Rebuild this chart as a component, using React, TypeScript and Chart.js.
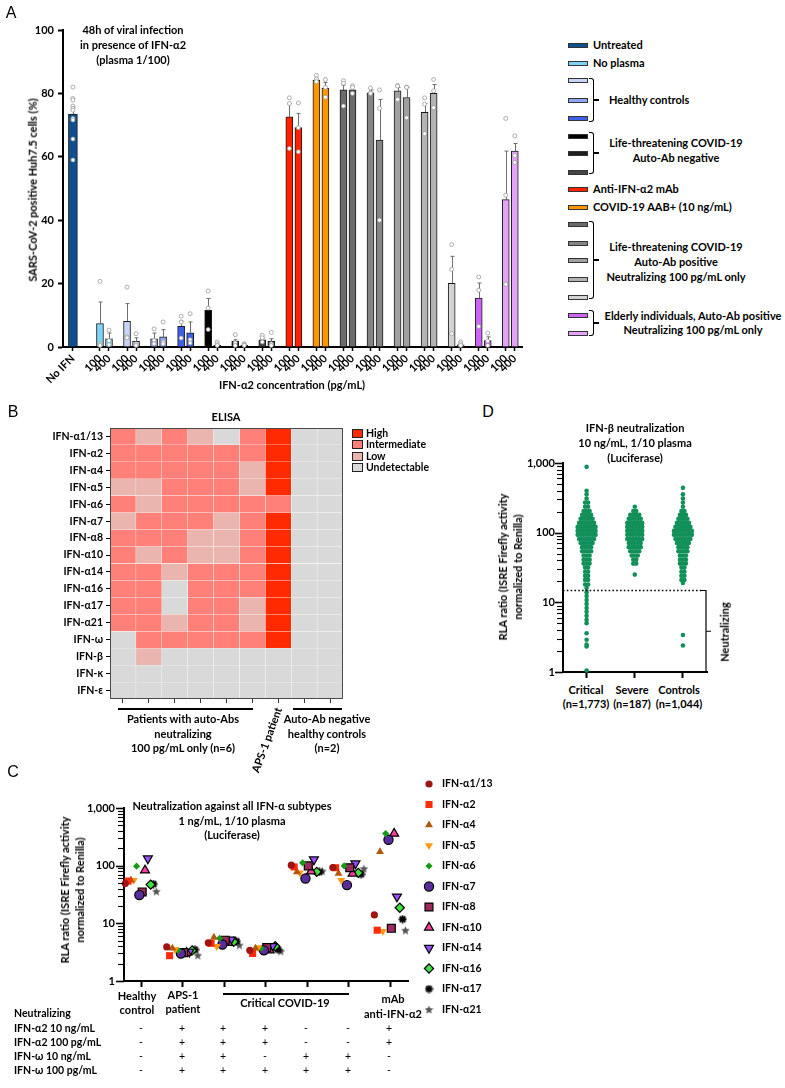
import React, { useEffect, useRef } from 'react';
import { Chart, registerables } from 'chart.js';
import { drawPoint } from 'chart.js/helpers';

Chart.register(...registerables);

const FONT = "Lato, 'Open Sans', 'DejaVu Sans', sans-serif";
Chart.defaults.font.family = FONT;
Chart.defaults.font.size = 11;
(Chart.defaults.font as any).weight = 'bold';
Chart.defaults.color = '#000';

// ---------------- Panel A data ----------------
const aControlLabel = 'No IFN';
const aConcLabels = ['100', '400'];
const aUntreatedColor = '#0d4f8f';
const aGroupColors = [
  '#7fd3f7', '#c8d3f6', '#8fa6f0', '#3e5fe6',
  '#000000', '#1e1e1e', '#454545',
  '#ff2200', '#ff9500',
  '#6b6b6b', '#858585', '#a0a0a0', '#b3b3b3', '#d3d3d3',
  '#cc66f0', '#e3a3fa',
];
const aNoIfnMean = 73.5;
const aNoIfnErrTop = 75.6;
const aNoIfnDots = [82, 78.4, 77.9, 76, 75.3, 74.7, 72.1, 71.6, 65.6, 59];
const aMean100 = [7.4, 8.1, 2.6, 6.5, 11.6, 1.9, 2.3, 72.6, 84.2, 81.1, 80.2, 80.8, 74.0, 20.1, 15.4, 46.5];
const aErr100 = [14.2, 13.7, 4.4, 8.2, 15.3, 2.3, 2.8, 76.8, 84.7, 82.6, 81.1, 81.9, 76.8, 28.6, 20.2, 61.8];
const aMean400 = [2.6, 1.8, 3.2, 4.5, 0.5, 0.5, 1.9, 69.2, 81.7, 81.1, 65.3, 78.7, 80.0, 0.7, 2.0, 61.8];
const aErr400 = [4.4, 2.9, 5.5, 7.9, 0.5, 0.5, 2.6, 73.7, 83.4, 81.9, 78.1, 81.9, 82.8, 0.7, 3.2, 64.2];
const aDots100 = [
  [20.7, 1, 0.5], [18.9, 3.2, 2.9], [5.7, 2.1, 1], [9.7, 7.9, 2.8], [17.7, 12.3, 5.5], [3.9, 1.3, 0.5],
  [3.7, 2.9, 1.6], [78.6, 76.8, 62.6], [85.7, 84.5, 83.7], [84, 83.2, 76], [81.7, 80.2, 80], [82.5, 82.3, 78.1],
  [78.6, 76.6, 67.3], [32.3, 24.5, 4.2], [22.1, 17.9, 6.5], [72.1, 47.9, 19.8],
];
const aDots400 = [
  [5.3, 2, 0.7], [4.2, 1, 0.5], [7.9, 1.6, 1], [10.5, 2.3, 1.3], [1.6, 1, 0.5], [1, 0.8, 0.5],
  [4.6, 1, 0.5], [77, 69.2, 61.6], [84.4, 81.9, 78.8], [82.4, 81.9, 80], [81.1, 75.3, 40], [82, 81.9, 72.3],
  [84.4, 80.8, 75.5], [1.6, 1, 0.5], [4.4, 1.9, 0.5], [66.6, 60.4, 58.2],
];
const aLegendLabels = ['Untreated', 'No plasma', '', '', '', '', '', '', 'Anti-IFN-α2 mAb', 'COVID-19 AAB+ (10 ng/mL)'];

// ---------------- Panel B data ----------------
const bRows = ['IFN-α1/13', 'IFN-α2', 'IFN-α4', 'IFN-α5', 'IFN-α6', 'IFN-α7', 'IFN-α8', 'IFN-α10', 'IFN-α14',
  'IFN-α16', 'IFN-α17', 'IFN-α21', 'IFN-ω', 'IFN-β', 'IFN-κ', 'IFN-ε'];
const bColumns = ['P1', 'P2', 'P3', 'P4', 'P5', 'P6', 'APS-1', 'HC1', 'HC2'];
const bLevelNames = ['Undetectable', 'Low', 'Intermediate', 'High'];
const bLevelColors = ['#d9d9d9', '#eab4af', '#ff8078', '#ff2a00'];
const bMatrix = [
  [2, 1, 2, 1, 0, 2, 3, 0, 0],
  [2, 2, 2, 2, 2, 2, 3, 0, 0],
  [2, 2, 2, 2, 2, 1, 3, 0, 0],
  [1, 1, 2, 2, 2, 1, 3, 0, 0],
  [2, 1, 2, 2, 2, 2, 2, 0, 0],
  [1, 2, 2, 2, 1, 2, 3, 0, 0],
  [2, 2, 2, 1, 1, 2, 3, 0, 0],
  [2, 1, 2, 1, 1, 2, 3, 0, 0],
  [2, 2, 1, 2, 2, 2, 3, 0, 0],
  [2, 2, 0, 2, 2, 2, 3, 0, 0],
  [2, 2, 0, 2, 2, 1, 3, 0, 0],
  [2, 2, 1, 2, 2, 1, 3, 0, 0],
  [0, 2, 2, 2, 2, 2, 3, 0, 0],
  [0, 1, 0, 0, 0, 0, 0, 0, 0],
  [0, 0, 0, 0, 0, 0, 0, 0, 0],
  [0, 0, 0, 0, 0, 0, 0, 0, 0],
];

// ---------------- Panel C data ----------------
const cGroups = ['Healthy control', 'APS-1 patient', 'Critical 1', 'Critical 2', 'Critical 3', 'Critical 4', 'mAb anti-IFN-α2'];
const cSubtypes = ['IFN-α1/13', 'IFN-α2', 'IFN-α4', 'IFN-α5', 'IFN-α6', 'IFN-α7', 'IFN-α8', 'IFN-α10', 'IFN-α14', 'IFN-α16', 'IFN-α17', 'IFN-α21'];
const cA1_13 = [49, 3.9, 4.6, 3.4, 102, 93, 14];
const cA2 = [54, 2.75, 4.5, 3.0, 95, 92, 7.6];
const cA4 = [56, 3.7, 5.7, 3.7, 78, 73, 174];
const cA5 = [56, 3.5, 4.0, 3.8, 75, 56, 7.3];
const cA6 = [98, 3.4, 5.5, 3.7, 112, 99, 360];
const cA7 = [31, 3.0, 4.3, 3.4, 60, 46, 282];
const cA8 = [35, 3.1, 5.1, 3.8, 99, 92, 8.2];
const cA10 = [83, 3.1, 4.6, 3.4, 80, 73, 360];
const cA14 = [133, 3.2, 5.2, 4.0, 128, 109, 29];
const cA16 = [47, 3.4, 4.8, 4.0, 78, 75, 18.6];
const cA17 = [48, 3.5, 4.9, 3.5, 78, 71, 11.8];
const cA21 = [36, 2.8, 4.2, 3.3, 81, 89, 7.6];
const cValues = [cA1_13, cA2, cA4, cA5, cA6, cA7, cA8, cA10, cA14, cA16, cA17, cA21];
const cRowLabels = ['IFN-α2 10 ng/mL', 'IFN-α2 100 pg/mL', 'IFN-ω 10 ng/mL', 'IFN-ω 100 pg/mL'];
const cRowSigns = [
  ['-', '+', '+', '+', '-', '-', '+'],
  ['-', '+', '+', '+', '-', '-', '+'],
  ['-', '+', '+', '-', '+', '+', '-'],
  ['-', '+', '+', '+', '+', '+', '-'],
];
const logTickLabels = ['1', '10', '100', '1,000'];

// ---------------- Panel D data ----------------
const dCategories = ['Critical', 'Severe', 'Controls'];
const dCounts = ['(n=1,773)', '(n=187)', '(n=1,044)'];
const dThreshold = 15;
const dCritValues = [1.05, 2.33, 2.47, 2.9, 3.6, 5.0, 5.6, 6.4, 7.3, 8.3, 9.5, 10.8, 12.3, 14, 16, 18, 21, 24, 27.5, 31.5, 36, 41, 47, 54, 62, 71, 81, 93, 106, 121, 138, 158, 180, 205, 235, 270, 310, 355, 400, 880];
const dCritCounts = [1, 1, 1, 1, 1, 1, 1, 1, 1, 1, 1, 1, 1, 1, 1, 2, 2, 2, 2, 2, 3, 3, 3, 4, 4, 5, 6, 7, 7, 7, 6, 5, 4, 3, 2, 2, 1, 1, 1, 1];
const dSevValues = [25, 36, 41, 47, 54, 62, 71, 81, 93, 106, 121, 138, 158, 180, 205, 235];
const dSevCounts = [1, 2, 2, 3, 4, 5, 5, 6, 6, 6, 6, 6, 5, 4, 2, 1];
const dCtrlValues = [2.4, 3.4, 19, 21, 24, 27.5, 31.5, 36, 41, 47, 54, 62, 71, 81, 93, 106, 121, 138, 158, 180, 205, 235, 270, 310, 355, 440];
const dCtrlCounts = [1, 1, 1, 2, 2, 2, 2, 3, 3, 3, 4, 4, 5, 6, 7, 7, 6, 5, 4, 3, 2, 1, 1, 1, 1, 1];

// ---------------- helpers ----------------
function makeStar(color: string, size: number) {
  const c = document.createElement('canvas');
  c.width = size; c.height = size;
  const g = c.getContext('2d')!;
  g.fillStyle = color;
  g.beginPath();
  const cx = size / 2, cy = size / 2 + 0.5, R = size / 2, r = R * 0.45;
  for (let i = 0; i < 10; i++) {
    const ang = -Math.PI / 2 + (i * Math.PI) / 5;
    const rad = i % 2 === 0 ? R : r;
    g.lineTo(cx + rad * Math.cos(ang), cy + rad * Math.sin(ang));
  }
  g.closePath();
  g.fill();
  return c;
}
function makeAsterisk(size: number) {
  const c = document.createElement('canvas');
  c.width = size; c.height = size;
  const g = c.getContext('2d')!;
  g.strokeStyle = '#000';
  g.lineWidth = 1.8;
  const cx = size / 2, cy = size / 2, R = size / 2 - 0.5;
  g.beginPath();
  for (let i = 0; i < 4; i++) {
    const ang = (i * Math.PI) / 4;
    g.moveTo(cx - R * Math.cos(ang), cy - R * Math.sin(ang));
    g.lineTo(cx + R * Math.cos(ang), cy + R * Math.sin(ang));
  }
  g.stroke();
  return c;
}

function logTickPlugin(major: number, minor: number) {
  return {
    id: 'logTicks',
    afterDraw(chart: any) {
      const y = chart.scales.y;
      const ctx = chart.ctx;
      const left = chart.chartArea.left;
      ctx.save();
      ctx.strokeStyle = '#000';
      y.ticks.forEach((t: any) => {
        const l = Math.log10(t.value);
        const isMajor = Math.abs(l - Math.round(l)) < 1e-9;
        const py = Math.round(y.getPixelForValue(t.value)) + 0.5;
        ctx.lineWidth = isMajor ? 1.6 : 1.1;
        ctx.beginPath();
        ctx.moveTo(left - (isMajor ? major : minor), py);
        ctx.lineTo(left, py);
        ctx.stroke();
      });
      ctx.restore();
    },
  };
}

function logTicksBuild(s: any) {
  const vals: number[] = [];
  [1, 10, 100].forEach((d) => { for (let k = 1; k <= 9; k++) vals.push(k * d); });
  vals.push(1000);
  s.ticks = vals.map((v) => ({ value: v }));
}
function logLabel(v: number) {
  const idx = [1, 10, 100, 1000].indexOf(v);
  return idx >= 0 ? logTickLabels[idx] : '';
}

const baseOpts = {
  responsive: false,
  animation: false,
  devicePixelRatio: 1,
  events: [],
};

// ---------------- configs ----------------
function makeA(): any {
  const barPts: any[] = [];
  const barCols: string[] = [];
  const errs: number[][] = [];
  const dots: any[] = [];
  aMean100.forEach((m, k) => {
    const x1 = 3 + 3 * k, x2 = 4 + 3 * k;
    barPts.push({ x: x1, y: m }); barCols.push(aGroupColors[k]);
    barPts.push({ x: x2, y: aMean400[k] }); barCols.push(aGroupColors[k]);
    errs.push([x1, m, aErr100[k]], [x2, aMean400[k], aErr400[k]]);
    aDots100[k].forEach((v) => dots.push({ x: x1, y: v }));
    aDots400[k].forEach((v) => dots.push({ x: x2, y: v }));
  });
  errs.push([0, aNoIfnMean, aNoIfnErrTop]);
  aNoIfnDots.forEach((v) => dots.push({ x: 0, y: v }));
  const tickVals = [0, ...aMean100.flatMap((_, k) => [3 + 3 * k, 4 + 3 * k])];
  const errPlugin = {
    id: 'errA',
    beforeDatasetsDraw(chart: any) {
      const { ctx, scales: { x, y } } = chart;
      ctx.save();
      ctx.strokeStyle = '#6e6e6e';
      ctx.lineWidth = 1;
      errs.forEach(([xv, mean, top]) => {
        if (top <= mean) return;
        const px = Math.round(x.getPixelForValue(xv)) + 0.5;
        const pt = y.getPixelForValue(top);
        ctx.beginPath();
        ctx.moveTo(px, y.getPixelForValue(mean));
        ctx.lineTo(px, pt);
        ctx.moveTo(px - 2, pt);
        ctx.lineTo(px + 2, pt);
        ctx.stroke();
      });
      ctx.restore();
    },
  };
  return {
    type: 'bar',
    data: {
      datasets: [
        { type: 'bar', data: [{ x: 0, y: aNoIfnMean }], backgroundColor: aUntreatedColor, borderColor: '#1a1a1a', borderWidth: 1, barThickness: 9, grouped: false, order: 2 },
        { type: 'bar', data: barPts, backgroundColor: barCols, borderColor: '#1a1a1a', borderWidth: 1, barThickness: 7, grouped: false, order: 2 },
        { type: 'scatter', data: dots, pointRadius: 2, pointBackgroundColor: '#fff', pointBorderColor: '#9a9a9a', pointBorderWidth: 0.8, order: 0, clip: false },
      ],
    },
    options: {
      ...baseOpts,
      layout: { padding: { top: 30, right: 18, left: 0, bottom: 0 } },
      plugins: { legend: { display: false }, tooltip: { enabled: false } },
      scales: {
        x: {
          type: 'linear', min: -1.1, max: 49.8, offset: false,
          afterFit: (s: any) => { s.height = 53; },
          afterBuildTicks: (s: any) => { s.ticks = tickVals.map((v) => ({ value: v })); },
          ticks: {
            autoSkip: false, minRotation: 45, maxRotation: 45, padding: 1,
            callback: (v: number) => (v === 0 ? aControlLabel : v % 3 === 0 ? aConcLabels[0] : aConcLabels[1]),
          },
          grid: { drawOnChartArea: false, offset: false, tickLength: 4, tickWidth: 1.5, color: '#000' },
          border: { width: 2, color: '#000' },
        },
        y: {
          min: 0, max: 100,
          afterFit: (s: any) => { s.width = 63; },
          ticks: { stepSize: 20, padding: 4 },
          grid: { drawOnChartArea: false, tickLength: 5, tickWidth: 2, color: '#000' },
          border: { width: 2, color: '#000' },
        },
      },
    },
    plugins: [errPlugin],
  };
}

function makeB(): any {
  const frame = {
    id: 'frameB',
    afterDatasetsDraw(chart: any) {
      const { ctx, chartArea: a } = chart;
      ctx.save();
      ctx.strokeStyle = '#4a4a4a';
      ctx.lineWidth = 1;
      ctx.strokeRect(Math.round(a.left) + 0.5, Math.round(a.top) + 0.5, Math.round(a.right - a.left) - 1, Math.round(a.bottom - a.top) - 1);
      ctx.restore();
    },
  };
  return {
    type: 'bar',
    data: {
      labels: bRows,
      datasets: bColumns.map((col, c) => ({
        label: col,
        data: bRows.map(() => 1),
        backgroundColor: bMatrix.map((r) => bLevelColors[r[c]]),
        borderColor: 'rgba(255,255,255,0.35)',
        borderWidth: 0.5,
        borderSkipped: false,
        barPercentage: 1,
        categoryPercentage: 1,
        stack: 'h',
      })),
    },
    options: {
      ...baseOpts,
      indexAxis: 'y',
      layout: { padding: { top: 23, right: 7, left: 0, bottom: 0 } },
      plugins: { legend: { display: false }, tooltip: { enabled: false } },
      scales: {
        x: {
          type: 'linear', stacked: true, min: 0, max: 9, offset: false,
          afterFit: (s: any) => { s.height = 16; },
          afterBuildTicks: (s: any) => { s.ticks = bColumns.map((_, i) => ({ value: i + 0.5 })); },
          ticks: { callback: () => '' },
          grid: { drawOnChartArea: false, offset: false, tickLength: 4, tickWidth: 1, color: '#333' },
          border: { display: false },
        },
        y: {
          type: 'category', stacked: true, offset: true,
          afterFit: (s: any) => { s.width = 110; },
          ticks: { padding: 3, autoSkip: false, font: { size: 10.5 } },
          grid: { drawOnChartArea: false, offset: false, tickLength: 4, tickWidth: 1, color: '#000' },
          border: { display: false },
        },
      },
    },
    plugins: [frame],
  };
}

function makeC(): any {
  const star = makeStar('#555', 9);
  const ast = makeAsterisk(9);
  const styles = [
    { ps: 'circle', rot: 0, r: 3.6, bg: '#a11414', bw: 0 },
    { ps: 'rect', rot: 0, r: 5, bg: '#ff2a0a', bw: 0 },
    { ps: 'triangle', rot: 0, r: 4.6, bg: '#b0580e', bw: 0 },
    { ps: 'triangle', rot: 180, r: 4.6, bg: '#ff9a10', bw: 0 },
    { ps: 'rectRot', rot: 0, r: 3.6, bg: '#169a1a', bw: 0 },
    { ps: 'circle', rot: 0, r: 4.6, bg: '#5a2d9c', bw: 1.2 },
    { ps: 'rect', rot: 0, r: 5.6, bg: '#9c2a5c', bw: 1.2 },
    { ps: 'triangle', rot: 0, r: 5.2, bg: '#ff3fa0', bw: 1.2 },
    { ps: 'triangle', rot: 180, r: 5.2, bg: '#9a4fff', bw: 1.2 },
    { ps: 'rectRot', rot: 0, r: 4.6, bg: '#3fe03f', bw: 1.2 },
    { ps: ast, rot: 0, r: 4.5, bg: '#000', bw: 0 },
    { ps: star, rot: 0, r: 4.5, bg: '#555', bw: 0 },
  ];
  const legendPlugin = {
    id: 'cLegend',
    afterDraw(chart: any) {
      const ctx = chart.ctx;
      ctx.save();
      cSubtypes.forEach((name, i) => {
        const st = styles[i];
        const y = 14 + i * 20.5;
        ctx.fillStyle = st.bg;
        ctx.strokeStyle = '#000';
        ctx.lineWidth = st.bw;
        drawPoint(ctx, { pointStyle: st.ps as any, rotation: st.rot, radius: st.r, borderWidth: st.bw } as any, 429, y);
        ctx.fillStyle = '#000';
        ctx.font = `bold 10.5px ${FONT}`;
        ctx.textBaseline = 'middle';
        ctx.textAlign = 'left';
        ctx.fillText(name, 442, y);
      });
      ctx.restore();
    },
  };
  return {
    type: 'scatter',
    data: {
      datasets: cValues.map((vals, i) => ({
        label: cSubtypes[i],
        data: vals.map((v, g) => ({ x: g - 0.38 + i * 0.068, y: v })),
        pointStyle: styles[i].ps,
        rotation: styles[i].rot,
        pointRadius: styles[i].r,
        backgroundColor: styles[i].bg,
        borderColor: '#000',
        borderWidth: styles[i].bw,
        clip: false,
      })),
    },
    options: {
      ...baseOpts,
      layout: { padding: { top: 38, right: 122, left: 0, bottom: 0 } },
      plugins: { legend: { display: false }, tooltip: { enabled: false } },
      scales: {
        x: {
          type: 'linear', min: -0.41, max: 6.43,
          afterFit: (s: any) => { s.height = 39; },
          afterBuildTicks: (s: any) => { s.ticks = cGroups.map((_, i) => ({ value: i })); },
          ticks: { callback: () => '' },
          grid: { drawOnChartArea: false, tickLength: 6, tickWidth: 2, color: '#000' },
          border: { width: 2, color: '#000' },
        },
        y: {
          type: 'logarithmic', min: 1, max: 1000,
          afterFit: (s: any) => { s.width = 124; },
          afterBuildTicks: logTicksBuild,
          ticks: { autoSkip: false, padding: 2, callback: (v: number) => logLabel(v) },
          grid: { drawOnChartArea: false, tickLength: 7, color: 'rgba(0,0,0,0)' },
          border: { width: 2, color: '#000' },
        },
      },
    },
    plugins: [logTickPlugin(8, 6), legendPlugin],
  };
}

function swarm(cat: number, vals: number[], counts: number[]) {
  const pts: any[] = [];
  vals.forEach((v, i) => {
    const n = counts[i];
    for (let k = 0; k < n; k++) pts.push({ x: cat + (k - (n - 1) / 2) * 0.062, y: v });
  });
  return pts;
}

function makeD(): any {
  const bracket = {
    id: 'dNeutral',
    afterDraw(chart: any) {
      const { ctx, chartArea, scales: { y } } = chart;
      const yt = Math.round(y.getPixelForValue(dThreshold)) + 0.5;
      const yb = y.getPixelForValue(1);
      const xr = chartArea.right - 1;
      ctx.save();
      ctx.strokeStyle = '#000';
      ctx.lineWidth = 1.6;
      ctx.setLineDash([1.6, 2.2]);
      ctx.beginPath();
      ctx.moveTo(chartArea.left, yt);
      ctx.lineTo(xr - 5, yt);
      ctx.stroke();
      ctx.setLineDash([]);
      ctx.lineWidth = 1.2;
      ctx.beginPath();
      ctx.moveTo(xr - 5, yt);
      ctx.lineTo(xr, yt);
      ctx.lineTo(xr, yb);
      ctx.moveTo(xr, (yt + yb) / 2);
      ctx.lineTo(xr + 5, (yt + yb) / 2);
      ctx.stroke();
      ctx.restore();
    },
  };
  const groups = [swarm(0, dCritValues, dCritCounts), swarm(1, dSevValues, dSevCounts), swarm(2, dCtrlValues, dCtrlCounts)];
  return {
    type: 'scatter',
    data: {
      datasets: groups.map((pts, i) => ({
        label: dCategories[i],
        data: pts,
        pointRadius: 2.3,
        backgroundColor: '#12905a',
        borderWidth: 0,
        clip: false,
      })),
    },
    options: {
      ...baseOpts,
      layout: { padding: { top: 13, right: 23, left: 0, bottom: 0 } },
      plugins: { legend: { display: false }, tooltip: { enabled: false } },
      scales: {
        x: {
          type: 'linear', min: -0.49, max: 2.5,
          afterFit: (s: any) => { s.height = 8; },
          afterBuildTicks: (s: any) => { s.ticks = dCategories.map((_, i) => ({ value: i })); },
          ticks: { callback: () => '' },
          grid: { drawOnChartArea: false, tickLength: 6, tickWidth: 2, color: '#000' },
          border: { width: 2, color: '#000' },
        },
        y: {
          type: 'logarithmic', min: 1, max: 1000,
          afterFit: (s: any) => { s.width = 83; },
          afterBuildTicks: logTicksBuild,
          ticks: { autoSkip: false, padding: 1, callback: (v: number) => logLabel(v) },
          grid: { drawOnChartArea: false, tickLength: 7, color: 'rgba(0,0,0,0)' },
          border: { width: 2, color: '#000' },
        },
      },
    },
    plugins: [logTickPlugin(8, 6), bracket],
  };
}

// ---------------- components ----------------
function ChartCanvas({ x, y, w, h, make }: any) {
  const ref = useRef<HTMLCanvasElement>(null);
  useEffect(() => {
    const chart = new Chart(ref.current!, make());
    return () => chart.destroy();
  }, []);
  return <canvas ref={ref} width={w} height={h} style={{ position: 'absolute', left: x, top: y, width: w, height: h }} />;
}

function Txt({ x, y, a = 'c', rot = 0, lh = 14.5, w = 700, s = 11, ff = FONT, children }: any) {
  const tx = a === 'c' ? '-50%' : a === 'r' ? '-100%' : '0';
  return (
    <div
      style={{
        position: 'absolute', left: x, top: y,
        transform: `translate(${tx},-50%) rotate(${rot}deg)`,
        whiteSpace: 'pre', textAlign: a === 'c' ? 'center' : a === 'r' ? 'right' : 'left',
        fontFamily: ff, fontWeight: w, fontSize: s, lineHeight: lh + 'px', color: '#000',
      }}
    >
      {children}
    </div>
  );
}

function Line({ x1, x2, y, t = 1.5 }: any) {
  return <div style={{ position: 'absolute', left: x1, top: y - t / 2, width: x2 - x1, height: t, background: '#000' }} />;
}

function Bracket({ x, y1, y2 }: any) {
  const mid = (y1 + y2) / 2;
  return (
    <>
      <div style={{ position: 'absolute', left: x, top: y1, width: 5, height: y2 - y1, boxSizing: 'border-box', borderTop: '1.5px solid #000', borderRight: '1.5px solid #000', borderBottom: '1.5px solid #000', borderRadius: '0 3px 3px 0' }} />
      <div style={{ position: 'absolute', left: x + 5, top: mid - 0.75, width: 5, height: 1.5, background: '#000' }} />
    </>
  );
}

const aLegendYs = [45, 63, 80, 100, 118, 136, 153, 172, 189, 207, 224, 243, 260, 279, 297, 315, 333];
const bLegendYs = [433, 444, 456, 467];
const cColXs = [141, 182, 223, 265, 306, 348, 389];
const cRowYs = [1028, 1042, 1056, 1070];
const dXs = [586, 632, 679];
const PL = "'Liberation Sans', Arial, sans-serif";

export default function App() {
  const legendColors = [aUntreatedColor, ...aGroupColors];
  return (
    <div style={{ position: 'absolute', left: 0, top: 0, width: 785, height: 1088, background: '#fff', overflow: 'hidden' }}>
      <ChartCanvas x={0} y={0} w={540} h={400} make={makeA} />
      <ChartCanvas x={0} y={405} w={350} h={310} make={makeB} />
      <ChartCanvas x={0} y={770} w={530} h={250} make={makeC} />
      <ChartCanvas x={480} y={450} w={250} h={230} make={makeD} />

      {/* panel letters */}
      <Txt x={11} y={13} s={16} w={400} ff={PL} lh={18}>A</Txt>
      <Txt x={13} y={412} s={16} w={400} ff={PL} lh={18}>B</Txt>
      <Txt x={13} y={772} s={16} w={400} ff={PL} lh={18}>C</Txt>
      <Txt x={488} y={412} s={16} w={400} ff={PL} lh={18}>D</Txt>

      {/* Panel A texts */}
      <Txt x={133} y={44} lh={15}>{'48h of viral infection\nin presence of IFN-α2\n(plasma 1/100)'}</Txt>
      <Txt x={33} y={190} rot={-90}>SARS-CoV-2 positive Huh7.5 cells (%)</Txt>
      <Txt x={292} y={385}>IFN-α2 concentration (pg/mL)</Txt>
      {legendColors.map((c, i) => (
        <div key={i} style={{ position: 'absolute', left: 568, top: aLegendYs[i] - 2.5, width: 20, height: 5, boxSizing: 'border-box', border: '1px solid #333', background: c }} />
      ))}
      {aLegendLabels.map((l, i) => (l ? <Txt key={i} x={593} y={aLegendYs[i]} a="l">{l}</Txt> : null))}
      <Bracket x={589} y1={78} y2={122} />
      <Txt x={609} y={100} a="l">Healthy controls</Txt>
      <Bracket x={589} y1={132} y2={174} />
      <Txt x={676} y={149.5} lh={15}>{'Life-threatening COVID-19\nAuto-Ab negative'}</Txt>
      <Bracket x={589} y1={221} y2={299} />
      <Txt x={676} y={261} lh={15}>{'Life-threatening COVID-19\nAuto-Ab positive\nNeutralizing 100 pg/mL only'}</Txt>
      <Bracket x={589} y1={310} y2={336} />
      <Txt x={693} y={323} lh={14}>{'Elderly individuals, Auto-Ab positive\nNeutralizing 100 pg/mL only'}</Txt>

      {/* Panel B texts */}
      <Txt x={226} y={417}>ELISA</Txt>
      {bLevelNames.slice().reverse().map((n, i) => (
        <React.Fragment key={n}>
          <div style={{ position: 'absolute', left: 352, top: bLegendYs[i] - 4.5, width: 11, height: 9, boxSizing: 'border-box', border: '1px solid #222', background: bLevelColors[3 - i] }} />
          <Txt x={366} y={bLegendYs[i]} a="l" s={10.5}>{n}</Txt>
        </React.Fragment>
      ))}
      <Line x1={118} x2={253} y={709} />
      <Txt x={183} y={734}>{'Patients with auto-Abs\nneutralizing\n100 pg/mL only (n=6)'}</Txt>
      <Txt x={267} y={740} rot={-70}>APS-1 patient</Txt>
      <Line x1={293} x2={342} y={709} />
      <Txt x={327} y={734}>{'Auto-Ab negative\nhealthy controls\n(n=2)'}</Txt>

      {/* Panel C texts */}
      <Txt x={232} y={821}>{'Neutralization against all IFN-α subtypes\n1 ng/mL, 1/10 plasma\n(Luciferase)'}</Txt>
      <Txt x={72} y={890} rot={-90} lh={15}>{'RLA ratio (ISRE Firefly activity\nnormalized to Renilla)'}</Txt>
      <Txt x={137} y={1003} lh={14}>{'Healthy\ncontrol'}</Txt>
      <Txt x={183} y={1002} lh={14}>{'APS-1\npatient'}</Txt>
      <Line x1={223} x2={349} y={994} t={2} />
      <Txt x={285} y={1003}>Critical COVID-19</Txt>
      <Txt x={393} y={1005.5} lh={15}>{'mAb\nanti-IFN-α2'}</Txt>
      <Txt x={14} y={1013} a="l" s={10.5}>Neutralizing</Txt>
      {cRowLabels.map((l, r) => (
        <React.Fragment key={l}>
          <Txt x={14} y={cRowYs[r]} a="l" s={10.5}>{l}</Txt>
          {cRowSigns[r].map((sg, c) => (
            <Txt key={c} x={cColXs[c]} y={cRowYs[r]} w={400} s={10.5}>{sg}</Txt>
          ))}
        </React.Fragment>
      ))}

      {/* Panel D texts */}
      <Txt x={635} y={442} lh={15}>{'IFN-β neutralization\n10 ng/mL, 1/10 plasma\n(Luciferase)'}</Txt>
      <Txt x={510} y={567} rot={-90} lh={15}>{'RLA ratio (ISRE Firefly activity\nnormalized to Renilla)'}</Txt>
      {dCategories.map((c, i) => (
        <Txt key={c} x={dXs[i]} y={697} lh={14}>{c + '\n' + dCounts[i]}</Txt>
      ))}
      <Txt x={725} y={632} rot={-90}>Neutralizing</Txt>
    </div>
  );
}
